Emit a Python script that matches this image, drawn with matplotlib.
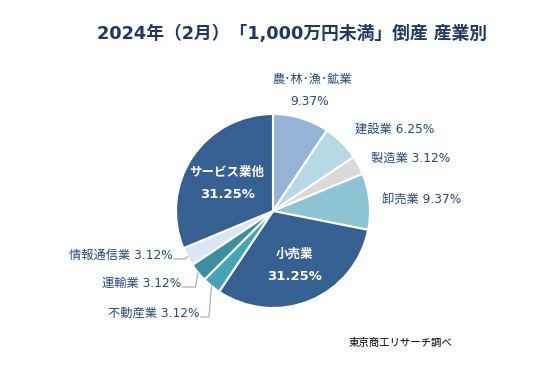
import numpy as np
import matplotlib
matplotlib.use("Agg")
import matplotlib.pyplot as plt

plt.rcParams['font.family'] = ['DejaVu Sans', 'Noto Sans CJK JP']

categories = ["農･林･漁･鉱業", "建設業", "製造業", "卸売業", "小売業",
              "不動産業", "運輸業", "情報通信業", "サービス業他"]
shares = [9.37, 6.25, 3.12, 9.37, 31.25, 3.12, 3.12, 3.12, 31.25]
colors = ["#95b3d7", "#b7d9e4", "#d9d9d9", "#8cc4d4", "#376092",
          "#45a3b6", "#3a8e9e", "#dce6f2", "#376092"]

title = "2024年（2月）「1,000万円未満」倒産 産業別"
source = "東京商工リサーチ調べ"

text_color = "#254a7a"

fig = plt.figure(figsize=(5.4, 3.77), dpi=100)
ax = fig.add_axes([0, 0, 1, 1])

cx, cy, R = 273, 166, 97
wedges, _ = ax.pie(shares, colors=colors, startangle=90, counterclock=False,
                   center=(cx, cy), radius=R,
                   wedgeprops=dict(edgecolor="white", linewidth=1.5))
ax.set_xlim(0, 540)
ax.set_ylim(0, 377)
ax.set_aspect("equal")
ax.axis("off")

def mid_angle(w):
    return np.deg2rad((w.theta1 + w.theta2) / 2)

# big slices: label inside, white bold
for i in (4, 8):
    a = mid_angle(wedges[i])
    x = cx + 0.57 * R * np.cos(a)
    y = cy + 0.57 * R * np.sin(a) - 3.5
    ax.text(x, y + 11, categories[i], color="white", fontsize=9,
            fontweight="bold", ha="center", va="center")
    ax.text(x, y - 11, f"{shares[i]:.2f}%", color="white", fontsize=9.5,
            fontweight="bold", ha="center", va="center")

# top slice: two-line label above
a = mid_angle(wedges[0])
x = cx + 1.3 * R * np.cos(a)
y = cy + 1.3 * R * np.sin(a)
ax.text(x + 3, y + 11, categories[0], color=text_color, fontsize=8.8,
        ha="center", va="center")
ax.text(x, y - 11, f"{shares[0]:.2f}%", color=text_color, fontsize=8.8,
        ha="center", va="center")

# right side labels
for i, rf in ((1, 1.2), (2, 1.15), (3, 1.13)):
    a = mid_angle(wedges[i])
    x = cx + rf * R * np.cos(a)
    y = cy + rf * R * np.sin(a)
    ax.text(x, y, f"{categories[i]} {shares[i]:.2f}%", color=text_color,
            fontsize=8.8, ha="left", va="center")

# left small slices with leader lines
left_layout = {7: (173, 122), 6: (181, 94), 5: (200, 64)}
for i, (tx, ty) in left_layout.items():
    a = mid_angle(wedges[i])
    ex = cx + R * np.cos(a)
    ey = cy + R * np.sin(a)
    ly = ty - 4
    ax.plot([ex, ex - 2.5, tx + 1], [ey, ly, ly], color="#a6a6a6", lw=0.8)
    ax.text(tx, ty, f"{categories[i]} {shares[i]:.2f}%", color=text_color,
            fontsize=8.8, ha="right", va="center")

fig.text(292 / 540, 1 - 34 / 377, title, color="#1f3864", fontsize=12.8,
         fontweight="bold", ha="center", va="center")
fig.text(400 / 540, 1 - 343 / 377, source, color="black", fontsize=7.5,
         ha="center", va="center")

fig.savefig("out.png", dpi=100)
